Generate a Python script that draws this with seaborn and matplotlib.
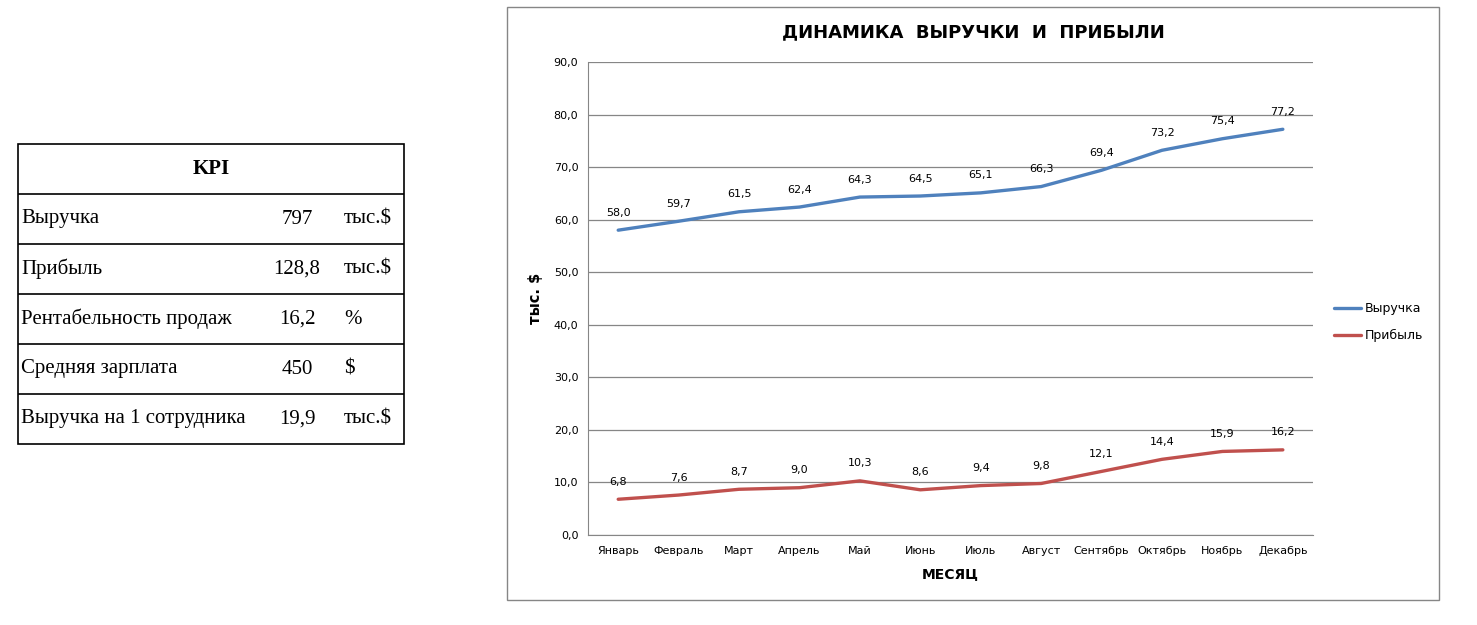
import pandas as pd
import numpy as np
import seaborn as sns
import matplotlib.pyplot as plt
from matplotlib.patches import Rectangle

# data
months = ["Январь", "Февраль", "Март", "Апрель", "Май", "Июнь", "Июль",
          "Август", "Сентябрь", "Октябрь", "Ноябрь", "Декабрь"]
revenue = [58.0, 59.7, 61.5, 62.4, 64.3, 64.5, 65.1, 66.3, 69.4, 73.2, 75.4, 77.2]
profit = [6.8, 7.6, 8.7, 9.0, 10.3, 8.6, 9.4, 9.8, 12.1, 14.4, 15.9, 16.2]

kpi_names = ["Выручка", "Прибыль", "Рентабельность продаж", "Средняя зарплата",
             "Выручка на 1 сотрудника"]
kpi_values = ["797", "128,8", "16,2", "450", "19,9"]
kpi_units = ["тыс.$", "тыс.$", "%", "$", "тыс.$"]

sns.set_style("white")
plt.rcParams["font.family"] = ["DejaVu Sans"]
plt.rcParams["text.color"] = "black"
plt.rcParams["axes.labelcolor"] = "black"
plt.rcParams["xtick.color"] = "black"
plt.rcParams["ytick.color"] = "black"

df = pd.DataFrame({
    "month": months * 2,
    "x": list(range(len(months))) * 2,
    "value": revenue + profit,
    "series": ["Выручка"] * len(months) + ["Прибыль"] * len(months),
})
colors = {"Выручка": "#4F81BD", "Прибыль": "#C0504D"}

fig = plt.figure(figsize=(14.77, 6.25), dpi=100)

# chart frame
fig.patches.append(Rectangle((0.3433, 0.04), 0.631, 0.9488, transform=fig.transFigure,
                             fill=False, edgecolor="#868686", linewidth=1))

ax = fig.add_axes([0.3981, 0.144, 0.4909, 0.7568])
sns.lineplot(data=df, x="x", y="value", hue="series", palette=colors,
             linewidth=2.4, ax=ax)
ax.set_xlim(-0.5, len(months) - 0.5)
ax.set_ylim(0, 90)
ax.set_yticks(np.arange(0, 91, 10))
ax.set_yticklabels([f"{v:.1f}".replace(".", ",") for v in np.arange(0, 91, 10)], fontsize=8)
ax.set_xticks(range(len(months)))
ax.set_xticklabels(months, fontsize=8)
ax.tick_params(axis="y", length=4, color="#868686", pad=3)
ax.tick_params(axis="x", length=0, pad=8)
ax.yaxis.grid(True, color="#868686", linewidth=0.9)
for side in ["top", "right"]:
    ax.spines[side].set_visible(False)
for side in ["left", "bottom"]:
    ax.spines[side].set_color("#868686")
ax.set_xlabel("МЕСЯЦ", fontsize=10, fontweight="bold", labelpad=8)
ax.set_ylabel("тыс. $", fontsize=10.5, fontweight="bold", labelpad=8)

for series in [revenue, profit]:
    for i, v in enumerate(series):
        ax.annotate(f"{v:.1f}".replace(".", ","), (i, v), xytext=(0, 9),
                    textcoords="offset points", ha="center", va="bottom", fontsize=8)

fig.text(0.659, 0.948, "ДИНАМИКА  ВЫРУЧКИ  И  ПРИБЫЛИ", ha="center", va="center",
         fontsize=13, fontweight="bold")

leg = ax.legend(loc="center left", bbox_to_anchor=(1.013, 0.45), frameon=False,
                fontsize=9, handlelength=2.2, handletextpad=0.3, labelspacing=1.1)

# KPI table
tx = fig.add_axes([0.01219, 0.2896, 0.2613, 0.48])
tx.set_xlim(0, 386)
tx.set_ylim(300, 0)
tx.axis("off")
tx.add_patch(Rectangle((0, 0), 386, 300, fill=False, edgecolor="black", linewidth=1.2,
                       clip_on=False))
for r in range(1, 6):
    tx.axhline(r * 50, color="black", linewidth=1.2)
tx.text(193, 25, "KPI", ha="center", va="center", fontsize=15, fontweight="bold",
        family="Liberation Serif")
for r, (name, val, unit) in enumerate(zip(kpi_names, kpi_values, kpi_units), start=1):
    yc = r * 50 + 25
    tx.text(3, yc, name, ha="left", va="center", fontsize=15, family="Liberation Serif")
    tx.text(279, yc, val, ha="center", va="center", fontsize=15, family="Liberation Serif")
    tx.text(326, yc, unit, ha="left", va="center", fontsize=15, family="Liberation Serif")

fig.savefig("out.png", dpi=100)
